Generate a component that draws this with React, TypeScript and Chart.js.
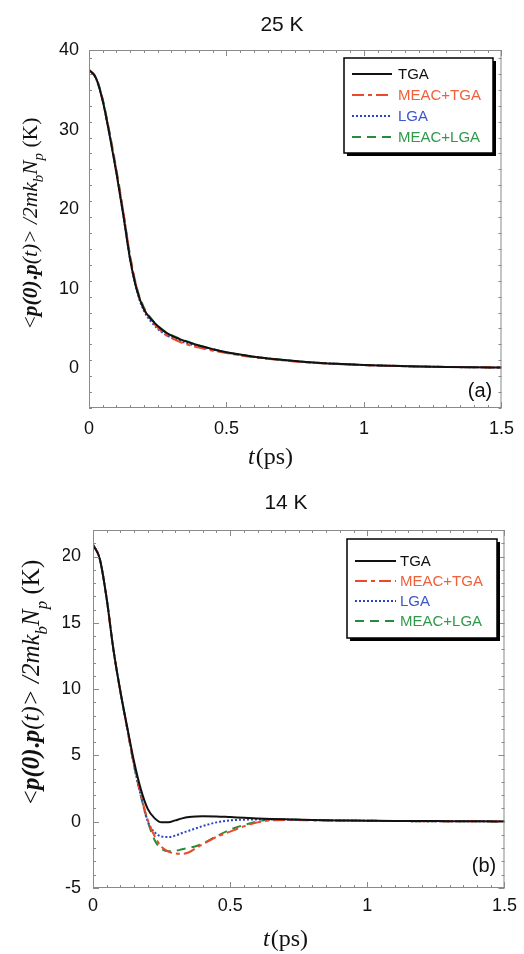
import React, { useEffect, useRef } from "react";
import { Chart, registerables } from "chart.js";

Chart.register(...registerables);

// ---------- data ----------
const SERIES_LABELS = ["TGA", "MEAC+TGA", "LGA", "MEAC+LGA"];

const X_TICKS = [0, 0.5, 1, 1.5];
const X_TICK_LABELS = ["0", "0.5", "1", "1.5"];

const Y_TICKS_A = [0, 10, 20, 30, 40];
const Y_TICK_LABELS_A = ["0", "10", "20", "30", "40"];
const Y_TICKS_B = [-5, 0, 5, 10, 15, 20];
const Y_TICK_LABELS_B = ["-5", "0", "5", "10", "15", "20"];

// panel (a) 25 K
const T_A = [0, 0.025, 0.05, 0.075, 0.1, 0.125, 0.15, 0.175, 0.2, 0.225, 0.25, 0.275, 0.3, 0.35, 0.4, 0.45, 0.5, 0.6, 0.7, 0.8, 0.9, 1.0, 1.1, 1.2, 1.3, 1.4, 1.5];
const TGA_A = [37.5, 36.5, 33.6, 29.3, 24.5, 19.2, 13.6, 9.7, 7.4, 6.2, 5.3, 4.6, 4.1, 3.4, 2.85, 2.4, 2.0, 1.45, 1.05, 0.75, 0.55, 0.4, 0.3, 0.22, 0.16, 0.12, 0.09];
const MEAC_TGA_A = [37.5, 36.5, 33.6, 29.4, 24.7, 19.6, 14.0, 9.9, 7.4, 6.1, 5.1, 4.3, 3.8, 3.05, 2.6, 2.2, 1.9, 1.38, 1.0, 0.72, 0.53, 0.39, 0.29, 0.21, 0.16, 0.12, 0.09];
const LGA_A = [37.5, 36.5, 33.6, 29.3, 24.5, 19.2, 13.6, 9.6, 7.2, 5.9, 4.95, 4.3, 3.85, 3.2, 2.75, 2.35, 1.97, 1.43, 1.04, 0.75, 0.55, 0.4, 0.3, 0.22, 0.16, 0.12, 0.09];
const MEAC_LGA_A = [37.5, 36.6, 33.8, 29.6, 24.9, 19.6, 14.0, 10.0, 7.6, 6.3, 5.35, 4.65, 4.15, 3.45, 2.85, 2.4, 2.0, 1.45, 1.05, 0.75, 0.55, 0.4, 0.3, 0.22, 0.16, 0.12, 0.09];

// panel (b) 14 K
const T_B = [0, 0.025, 0.05, 0.075, 0.1, 0.125, 0.15, 0.175, 0.2, 0.225, 0.25, 0.275, 0.3, 0.325, 0.35, 0.375, 0.4, 0.45, 0.5, 0.55, 0.6, 0.65, 0.7, 0.8, 0.9, 1.0, 1.1, 1.2, 1.3, 1.4, 1.5];
const TGA_B = [20.9, 19.8, 16.8, 12.9, 9.8, 7.1, 4.5, 2.4, 0.95, 0.25, -0.05, -0.05, 0.1, 0.25, 0.35, 0.4, 0.42, 0.4, 0.35, 0.3, 0.25, 0.21, 0.18, 0.13, 0.1, 0.08, 0.06, 0.05, 0.04, 0.03, 0.02];
const MEAC_TGA_B = [20.9, 19.8, 16.8, 12.9, 9.8, 7.0, 4.3, 2.0, 0.1, -1.1, -1.9, -2.25, -2.4, -2.42, -2.3, -2.0, -1.7, -1.15, -0.75, -0.35, -0.05, 0.1, 0.13, 0.11, 0.09, 0.07, 0.05, 0.04, 0.03, 0.03, 0.02];
const LGA_B = [20.9, 19.8, 16.8, 12.9, 9.8, 7.0, 4.2, 1.9, 0.0, -0.8, -1.12, -1.15, -1.05, -0.85, -0.68, -0.5, -0.33, -0.05, 0.1, 0.15, 0.17, 0.17, 0.16, 0.12, 0.09, 0.07, 0.05, 0.04, 0.03, 0.03, 0.02];
const MEAC_LGA_B = [20.9, 19.8, 16.8, 12.9, 9.8, 7.0, 4.2, 1.9, 0.0, -1.4, -2.05, -2.23, -2.2, -2.08, -1.97, -1.85, -1.65, -1.1, -0.6, -0.25, 0.02, 0.15, 0.16, 0.12, 0.09, 0.07, 0.05, 0.04, 0.03, 0.03, 0.02];

// ---------- styles ----------
const SERIES_STYLES = [
  { color: "#111111", text: "#111111", dash: [] as number[], width: 2 },
  { color: "#ea4a2a", text: "#f0603c", dash: [12, 4, 4, 4], width: 2 },
  { color: "#2a44c6", text: "#3a58c8", dash: [2, 2], width: 2 },
  { color: "#2a8a3c", text: "#2f9a4a", dash: [9, 6], width: 2 },
];
const FRAME = "#8a8a8a";
const SANS = '"Liberation Sans", Arial, Helvetica, sans-serif';
const SERIF = '"Liberation Serif", "Times New Roman", serif';

type Panel = {
  title: string;
  tag: string;
  t: number[];
  series: number[][];
  yMin: number;
  yMax: number;
  yTicks: number[];
  yTickLabels: string[];
  yMinor: number;
  padLeft: number;
  padRight: number;
  yAxisW: number;
  xAxisH: number;
  titleTop: number;
  titleBottom: number;
  xTickPad: number;
  yTickPad: number;
  legend: { x0: number; y0: number; x1: number; y1: number; rows: number[]; s0: number; s1: number; tx: number };
  yLabel: { x: number; cy: number; size: number };
  xLabel: { cx: number; y: number };
  tagPos: { x: number; y: number };
};

const PANELS: Panel[] = [
  {
    title: "25 K",
    tag: "(a)",
    t: T_A,
    series: [TGA_A, MEAC_TGA_A, LGA_A, MEAC_LGA_A],
    yMin: -5,
    yMax: 40,
    yTicks: Y_TICKS_A,
    yTickLabels: Y_TICK_LABELS_A,
    yMinor: 2,
    padLeft: 59,
    padRight: 19,
    yAxisW: 30,
    xAxisH: 69,
    titleTop: 12.4,
    titleBottom: 12.4,
    xTickPad: 10,
    yTickPad: 10,
    legend: { x0: 344, y0: 58, x1: 493, y1: 153, rows: [74, 95, 116, 137], s0: 352, s1: 392, tx: 398 },
    yLabel: { x: 37, cy: 223, size: 21.5 },
    xLabel: { cx: 270, y: 464 },
    tagPos: { x: 480, y: 391 },
  },
  {
    title: "14 K",
    tag: "(b)",
    t: T_B,
    series: [TGA_B, MEAC_TGA_B, LGA_B, MEAC_LGA_B],
    yMin: -5,
    yMax: 22,
    yTicks: Y_TICKS_B,
    yTickLabels: Y_TICK_LABELS_B,
    yMinor: 1,
    padLeft: 63,
    padRight: 15,
    yAxisW: 30,
    xAxisH: 66,
    titleTop: 13.9,
    titleBottom: 13.9,
    xTickPad: 7,
    yTickPad: 12,
    legend: { x0: 347, y0: 62, x1: 497, y1: 161, rows: [84, 104, 124, 144], s0: 355, s1: 396, tx: 400 },
    yLabel: { x: 39, cy: 205, size: 25 },
    xLabel: { cx: 285, y: 469 },
    tagPos: { x: 484, y: 389 },
  },
];

function decorPlugin(p: Panel) {
  return {
    id: "decor",
    afterDatasetsDraw(chart: any) {
      const { ctx, chartArea: ca, scales } = chart;
      const xs = scales.x;
      const ys = scales.y;
      ctx.save();
      ctx.strokeStyle = FRAME;
      ctx.lineWidth = 1;
      ctx.setLineDash([]);
      ctx.strokeRect(ca.left + 0.5, ca.top + 0.5, ca.right - ca.left - 1, ca.bottom - ca.top - 1);
      const major = 6;
      const minor = 3;
      // x ticks (top and bottom, inward)
      for (let i = 0; ; i++) {
        const v = i * 0.05;
        if (v > 1.5 + 1e-9) break;
        const isMajor = Math.abs(v * 2 - Math.round(v * 2)) < 1e-6;
        const len = isMajor ? major : minor;
        const x = Math.round(xs.getPixelForValue(v)) + 0.5;
        ctx.beginPath();
        ctx.moveTo(x, ca.bottom);
        ctx.lineTo(x, ca.bottom - len);
        ctx.moveTo(x, ca.top);
        ctx.lineTo(x, ca.top + len);
        ctx.stroke();
      }
      // y ticks (left and right, inward)
      for (let i = 0; ; i++) {
        const v = p.yMin + i * p.yMinor;
        if (v > p.yMax + 1e-9) break;
        const isMajor = p.yTicks.some((t) => Math.abs(t - v) < 1e-9);
        const len = isMajor ? major : minor;
        const y = Math.round(ys.getPixelForValue(v)) + 0.5;
        ctx.beginPath();
        ctx.moveTo(ca.left, y);
        ctx.lineTo(ca.left + len, y);
        ctx.moveTo(ca.right, y);
        ctx.lineTo(ca.right - len, y);
        ctx.stroke();
      }
      ctx.restore();
    },
    afterDraw(chart: any) {
      const { ctx } = chart;
      ctx.save();
      // legend box with shadow
      const L = p.legend;
      ctx.fillStyle = "#000";
      ctx.fillRect(L.x0 + 3, L.y0 + 3, L.x1 - L.x0, L.y1 - L.y0);
      ctx.fillStyle = "#fff";
      ctx.fillRect(L.x0, L.y0, L.x1 - L.x0, L.y1 - L.y0);
      ctx.strokeStyle = "#000";
      ctx.lineWidth = 1.5;
      ctx.strokeRect(L.x0, L.y0, L.x1 - L.x0, L.y1 - L.y0);
      chart.data.datasets.forEach((ds: any, i: number) => {
        const y = L.rows[i];
        ctx.strokeStyle = ds.borderColor;
        ctx.lineWidth = ds.borderWidth;
        ctx.setLineDash(ds.borderDash || []);
        ctx.beginPath();
        ctx.moveTo(L.s0, y);
        ctx.lineTo(L.s1, y);
        ctx.stroke();
        ctx.setLineDash([]);
        ctx.fillStyle = SERIES_STYLES[i].text;
        ctx.font = `15px ${SANS}`;
        ctx.textAlign = "left";
        ctx.textBaseline = "middle";
        ctx.fillText(ds.label, L.tx, y + 1);
      });

      // panel tag
      ctx.fillStyle = "#111";
      ctx.font = `20px ${SANS}`;
      ctx.textAlign = "center";
      ctx.textBaseline = "middle";
      ctx.fillText(p.tag, p.tagPos.x, p.tagPos.y);

      // x axis title: t(ps)
      ctx.textBaseline = "alphabetic";
      ctx.textAlign = "left";
      const fi = `italic 24px ${SERIF}`;
      const fr = `24px ${SERIF}`;
      ctx.font = fi;
      const w1 = ctx.measureText("t").width;
      ctx.font = fr;
      const w2 = ctx.measureText("(ps)").width;
      const xx = p.xLabel.cx - (w1 + w2) / 2;
      ctx.font = fi;
      ctx.fillText("t", xx, p.xLabel.y);
      ctx.font = fr;
      ctx.fillText("(ps)", xx + w1 + 1, p.xLabel.y);

      // y axis title (rotated, mixed fonts)
      const s = p.yLabel.size;
      const sub = Math.round(s * 0.68);
      const segs = [
        { t: "<", f: `${s}px ${SERIF}`, dy: 0 },
        { t: "p(0)", f: `bold italic ${s}px ${SERIF}`, dy: 0 },
        { t: ".", f: `bold ${s}px ${SERIF}`, dy: 0 },
        { t: "p", f: `bold italic ${s}px ${SERIF}`, dy: 0 },
        { t: "(t)", f: `italic ${s}px ${SERIF}`, dy: 0 },
        { t: "> /2mk", f: `italic ${s}px ${SERIF}`, dy: 0 },
        { t: "b", f: `italic ${sub}px ${SERIF}`, dy: s * 0.3 },
        { t: "N", f: `italic ${s}px ${SERIF}`, dy: 0 },
        { t: "p", f: `italic ${sub}px ${SERIF}`, dy: s * 0.3 },
        { t: " (K)", f: `${s}px ${SERIF}`, dy: 0 },
      ];
      let total = 0;
      const widths = segs.map((g) => {
        ctx.font = g.f;
        const w = ctx.measureText(g.t).width;
        total += w;
        return w;
      });
      ctx.translate(p.yLabel.x, p.yLabel.cy);
      ctx.rotate(-Math.PI / 2);
      let cx = -total / 2;
      segs.forEach((g, i) => {
        ctx.font = g.f;
        ctx.fillText(g.t, cx, g.dy);
        cx += widths[i];
      });
      ctx.restore();
    },
  };
}

function PanelChart({ p }: { p: Panel }) {
  const ref = useRef<HTMLCanvasElement | null>(null);
  useEffect(() => {
    if (!ref.current) return;
    const datasets = p.series.map((vals, i) => ({
      label: SERIES_LABELS[i],
      data: p.t.map((x, j) => ({ x, y: vals[j] })),
      borderColor: SERIES_STYLES[i].color,
      borderWidth: SERIES_STYLES[i].width,
      borderDash: SERIES_STYLES[i].dash,
      pointRadius: 0,
      fill: false,
      cubicInterpolationMode: "monotone" as const,
    }));
    const tickFont = { family: SANS, size: 18 };
    const chart = new Chart(ref.current, {
      type: "line",
      data: { datasets },
      options: {
        responsive: false,
        animation: false,
        devicePixelRatio: 1,
        events: [],
        layout: { padding: { left: p.padLeft, right: p.padRight, top: 0, bottom: 0 } },
        plugins: {
          legend: { display: false },
          tooltip: { enabled: false },
          title: {
            display: true,
            text: p.title,
            color: "#111",
            font: { family: SANS, size: 21, weight: "normal" },
            padding: { top: p.titleTop, bottom: p.titleBottom },
          },
        },
        scales: {
          x: {
            type: "linear",
            min: 0,
            max: 1.5,
            grid: { display: false, drawTicks: false },
            border: { display: false },
            ticks: {
              color: "#111",
              font: tickFont,
              padding: p.xTickPad,
              autoSkip: false,
              maxRotation: 0,
              callback: (_v: any, i: number) => X_TICK_LABELS[i],
            },
            afterBuildTicks: (s: any) => {
              s.ticks = X_TICKS.map((v) => ({ value: v }));
            },
            afterFit: (s: any) => {
              s.height = p.xAxisH;
            },
          },
          y: {
            type: "linear",
            min: p.yMin,
            max: p.yMax,
            grid: { display: false, drawTicks: false },
            border: { display: false },
            ticks: {
              color: "#111",
              font: tickFont,
              padding: p.yTickPad,
              autoSkip: false,
              callback: (_v: any, i: number) => p.yTickLabels[i],
            },
            afterBuildTicks: (s: any) => {
              s.ticks = p.yTicks.map((v) => ({ value: v }));
            },
            afterFit: (s: any) => {
              s.width = p.yAxisW;
            },
          },
        },
      } as any,
      plugins: [decorPlugin(p)],
    });
    return () => chart.destroy();
  }, [p]);
  return <canvas ref={ref} width={524} height={477} style={{ display: "block", width: 524, height: 477 }} />;
}

export default function App() {
  return (
    <div style={{ position: "absolute", left: 0, top: 0, width: 524, height: 954, background: "#fff" }}>
      {PANELS.map((p, i) => (
        <PanelChart key={i} p={p} />
      ))}
    </div>
  );
}
